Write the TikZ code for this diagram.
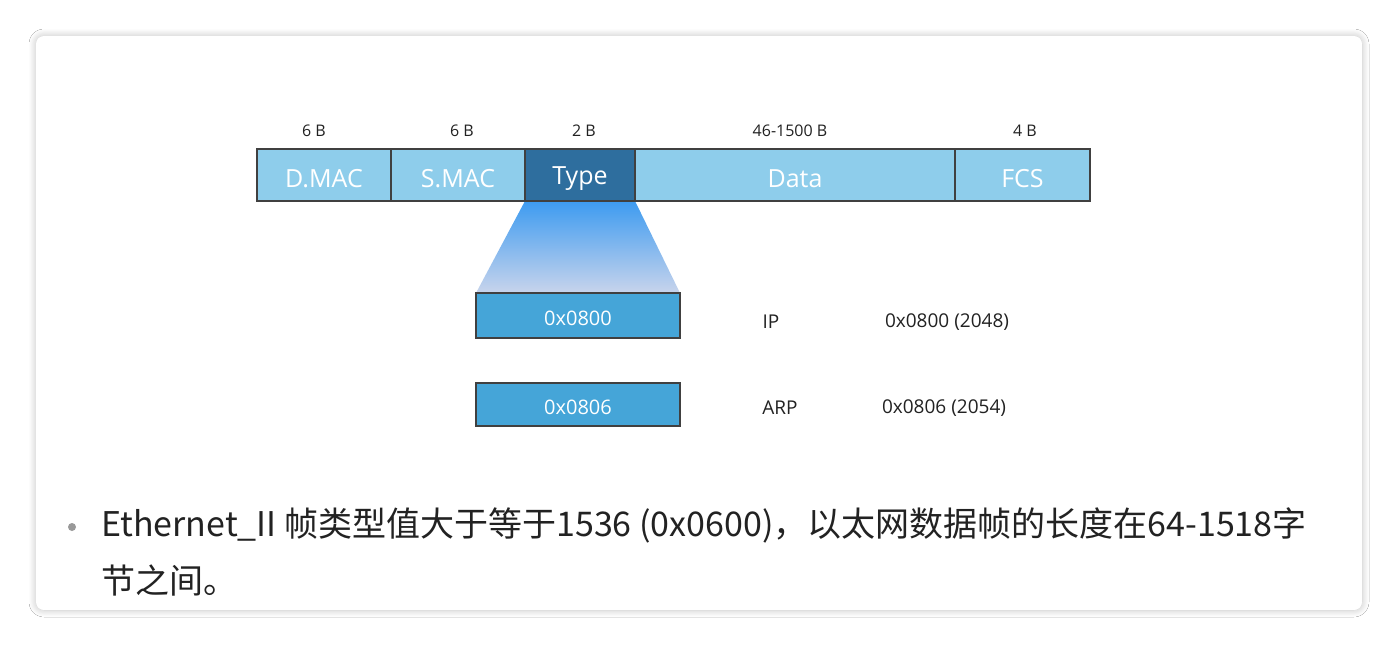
\documentclass[tikz,border=0pt]{standalone}
\usepackage{fontspec}
\setmainfont{Open Sans}
\newfontfamily\cjk{Noto Sans CJK SC}
\usetikzlibrary{shadows.blur}
\definecolor{lb}{HTML}{8ECDEB}
\definecolor{tb}{HTML}{2E6E9E}
\definecolor{vb}{HTML}{45A5D8}
\definecolor{gt}{HTML}{3D9BF0}
\definecolor{gb}{HTML}{C8D4EC}
\definecolor{tx}{HTML}{222222}
\begin{document}
\begin{tikzpicture}[x=1pt,y=-1pt,
 fld/.style={draw=black!75,line width=1.2pt,fill=lb,text=white,font=\fontsize{25}{28}\selectfont},
 val/.style={draw=black!75,line width=1.2pt,fill=vb,text=white,font=\fontsize{20}{23}\selectfont},
 sz/.style={text=tx,font=\fontsize{16}{18}\selectfont},
 lab/.style={text=tx,font=\fontsize{19}{22}\selectfont}]
\useasboundingbox (0,0) rectangle (1398,646);
\fill[white] (0,0) rectangle (1398,646);
\fill[white,rounded corners=8pt,blur shadow={shadow blur steps=10,shadow xshift=0pt,shadow yshift=0pt,shadow blur radius=7pt,shadow opacity=25}] (36,36) rectangle (1362,610);
\shade[top color=gt,bottom color=gb] (525,201) -- (635,201) -- (680,293) -- (476,293) -- cycle;
\path[fld] (257,149) rectangle (391,201) node[midway,yshift=-4] (dmac) {D.MAC};
\path[fld] (391,149) rectangle (525,201) node[midway,yshift=-4] (smac) {S.MAC};
\path[fld,fill=tb] (525,149) rectangle (635,201) node[midway,yshift=-4] (type) {Type};
\path[fld] (635,149) rectangle (955,201) node[midway,yshift=-4] (data) {Data};
\path[fld] (955,149) rectangle (1090,201) node[midway,yshift=-4] (fcs) {FCS};
\node[sz] (s1) at (314,131) {6 B};
\node[sz] (s2) at (462,131) {6 B};
\node[sz] (s3) at (584,131) {2 B};
\node[sz] (s4) at (790,131) {46-1500 B};
\node[sz] (s5) at (1025,131) {4 B};
\path[val] (476,293) rectangle (680,338) node[midway,yshift=-3] (v1) {0x0800};
\path[val] (476,383) rectangle (680,426) node[midway,yshift=-3] (v2) {0x0806};
\node[lab] (ip) at (771,322) {IP};
\node[lab] (ipv) at (947,322) {0x0800 (2048)};
\node[lab] (arp) at (780,408) {ARP};
\node[lab] (arpv) at (944,408) {0x0806 (2054)};
\fill[black!40] (72,527) circle (4);
\node[anchor=west,text=tx,font=\cjk\fontsize{34}{38}\selectfont,inner sep=0] (l1) at (101,525) {Ethernet\_II 帧类型值大于等于1536 (0x0600)，以太网数据帧的长度在64-1518字};
\node[anchor=west,text=tx,font=\cjk\fontsize{34}{38}\selectfont,inner sep=0] (l2) at (101,580) {节之间。};
\end{tikzpicture}
\end{document}
